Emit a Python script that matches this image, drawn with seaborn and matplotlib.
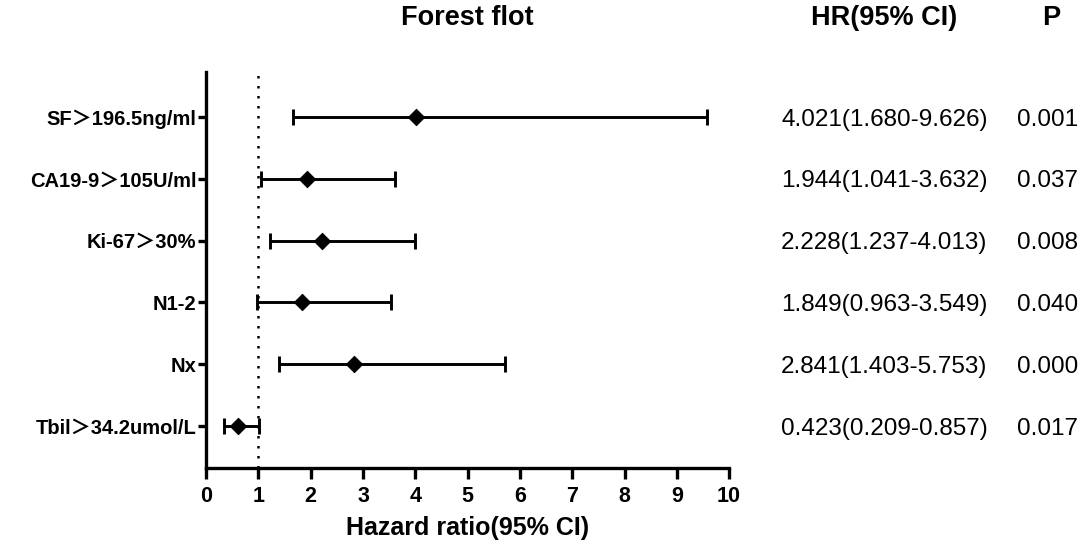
import matplotlib

matplotlib.use("Agg")

import matplotlib.pyplot as plt
import matplotlib.transforms as mtransforms
import numpy as np
import pandas as pd
import seaborn as sns

# values
labels = [
    "SF＞196.5ng/ml",
    "CA19-9＞105U/ml",
    "Ki-67＞30%",
    "N1-2",
    "Nx",
    "Tbil＞34.2umol/L",
]
hr = [4.01, 1.93, 2.22, 1.84, 2.83, 0.61]
ci_low = [1.66, 1.04, 1.23, 0.97, 1.39, 0.35]
ci_high = [9.58, 3.61, 3.99, 3.53, 5.72, 1.02]
hr_text = [
    "4.021(1.680-9.626)",
    "1.944(1.041-3.632)",
    "2.228(1.237-4.013)",
    "1.849(0.963-3.549)",
    "2.841(1.403-5.753)",
    "0.423(0.209-0.857)",
]
p_text = ["0.001", "0.037", "0.008", "0.040", "0.000", "0.017"]
x_ticks = list(range(0, 11))

sns.set_theme(style="ticks")
plt.rcParams["font.family"] = ["Liberation Sans", "Noto Sans CJK SC", "DejaVu Sans"]
plt.rcParams["text.color"] = "black"
plt.rcParams["axes.labelcolor"] = "black"
plt.rcParams["xtick.color"] = "black"
plt.rcParams["ytick.color"] = "black"

df = pd.DataFrame({"label": labels, "hr": hr, "lo": ci_low, "hi": ci_high})
df["pos"] = np.arange(len(df))

fig = plt.figure(figsize=(10.85, 5.45), dpi=100)
ax = fig.add_axes([0.190, 0.141, 0.482, 0.727])

ax.axvline(1, color="black", linestyle=(0, (1, 3)), linewidth=1.8, zorder=1)
ax.errorbar(
    df["hr"],
    df["pos"],
    xerr=[df["hr"] - df["lo"], df["hi"] - df["hr"]],
    fmt="none",
    ecolor="black",
    elinewidth=2.1,
    capsize=6,
    capthick=2.1,
    zorder=2,
)
sns.scatterplot(
    data=df, x="hr", y="pos", marker="D", s=70, color="black",
    edgecolor="black", ax=ax, zorder=3, legend=False,
)

ax.set_xlim(0, 10)
ax.set_ylim(5.68, -0.73)
ax.set_xticks(x_ticks)
ax.set_xticklabels([str(t) for t in x_ticks], fontsize=15.5, fontweight="bold")
ax.set_yticks(df["pos"])
ax.set_yticklabels(labels, fontsize=14.5, fontweight="bold")
ax.set_xlabel("Hazard ratio(95% CI)", fontsize=18, fontweight="bold", labelpad=6)
ax.set_ylabel("")
for side in ("top", "right"):
    ax.spines[side].set_visible(False)
for side in ("left", "bottom"):
    ax.spines[side].set_linewidth(2.4)
    ax.spines[side].set_color("black")
ax.tick_params(axis="x", width=2.4, length=8, pad=5)
ax.tick_params(axis="y", width=2.4, length=6, pad=1)

fig.text(0.431, 0.967, "Forest flot", ha="center", va="center", fontsize=19.5, fontweight="bold")
fig.text(0.815, 0.967, "HR(95% CI)", ha="center", va="center", fontsize=19.5, fontweight="bold")
fig.text(0.969, 0.967, "P", ha="center", va="center", fontsize=19.5, fontweight="bold")

trans = mtransforms.blended_transform_factory(fig.transFigure, ax.transData)
for i, (h, p) in enumerate(zip(hr_text, p_text)):
    ax.text(0.815, i, h, transform=trans, ha="center", va="center_baseline", fontsize=17.5)
    ax.text(0.9655, i, p, transform=trans, ha="center", va="center_baseline", fontsize=17.5)

fig.savefig("out.png", dpi=100, facecolor="white")
